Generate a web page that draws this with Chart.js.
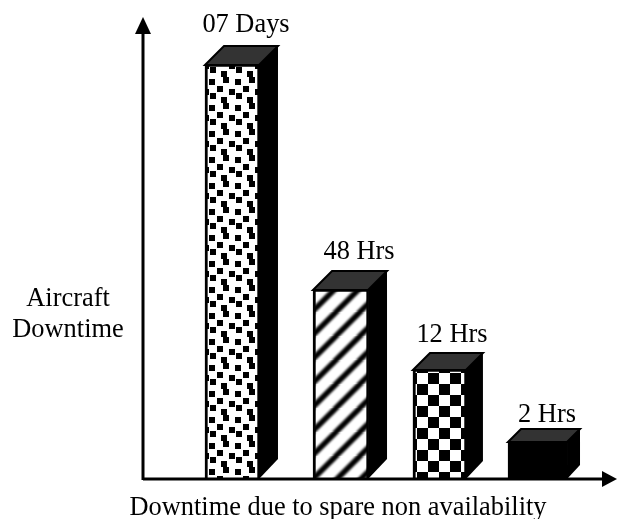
<!DOCTYPE html>
<html>
<head>
<meta charset="utf-8">
<style>html,body{margin:0;padding:0;background:#fff}canvas{display:block}</style>
<script src="https://cdn.jsdelivr.net/npm/chart.js@4"></script>
</head>
<body>
<canvas id="c" width="617" height="519"></canvas>
<script>
// Data (schematic axes, units are shares of the axis length)
const categories = ['07 Days', '48 Hrs', '12 Hrs', '2 Hrs'];
const barHeights = [89.6, 40.9, 23.6, 8.0];
const barPositions = [0.824, 1.829, 2.745, 3.653];
const xAxisTitle = 'Downtime due to spare non availability';
const yAxisTitle = ['Aircraft', 'Downtime'];

// Styles
const barWidths = [54, 55, 53, 59];
const barDepths = [19, 19, 17, 13];
const labelShiftX = [14, 18.5, 12.5, 9.5];
const labelShiftY = [33, 31, 28, 20];
const FONT = '26.4px "Liberation Serif"';

function tile(size, blur, draw) {
  const c = document.createElement('canvas');
  c.width = c.height = size;
  const t = c.getContext('2d');
  t.fillStyle = '#fff';
  t.fillRect(0, 0, size, size);
  t.fillStyle = '#000';
  t.strokeStyle = '#000';
  t.filter = 'blur(' + blur + 'px)';
  draw(t, size);
  return c;
}
const ctxMain = document.getElementById('c').getContext('2d');
const patterns = [
  ctxMain.createPattern(tile(26, 0.55, (t, s) => {
    const dots = [[4, 4], [18, 2], [12, 11], [24, 14], [5, 18], [16, 22]];
    for (const [x, y] of dots) for (const ox of [-s, 0, s]) for (const oy of [-s, 0, s])
      t.fillRect(x + ox - 3, y + oy - 3, 6, 6);
  }), 'repeat'),
  ctxMain.createPattern(tile(24, 1, (t, s) => {
    t.lineWidth = 5.5;
    for (let o = -s; o <= s; o += s) {
      t.beginPath(); t.moveTo(o - 2, s + 2); t.lineTo(o + s + 2, -2); t.stroke();
    }
  }), 'repeat'),
  ctxMain.createPattern(tile(22, 0.5, (t, s) => {
    const a = 10;
    for (let i = -1; i < 3; i++) for (let j = -1; j < 3; j++)
      if ((i + j + 2) % 2 !== 0) t.fillRect(i * 11 + a, j * 11 + a, 11, 11);
  }), 'repeat'),
  '#000'
];

const sketchPlugin = {
  id: 'sketch',
  afterDatasetsDraw(chart) {
    const ctx = chart.ctx, a = chart.chartArea;
    ctx.save();
    // 3D faces
    categories.forEach((name, i) => {
      const el = chart.getDatasetMeta(i).data[0];
      const l = el.x - barWidths[i] / 2, r = el.x + barWidths[i] / 2;
      const t = el.y, b = el.base, d = barDepths[i];
      ctx.fillStyle = '#000';
      ctx.beginPath();
      ctx.moveTo(r, t); ctx.lineTo(r + d, t - d); ctx.lineTo(r + d, b - d - 1); ctx.lineTo(r, b);
      ctx.closePath(); ctx.fill();
      ctx.fillStyle = '#333';
      ctx.strokeStyle = '#000';
      ctx.lineWidth = 2;
      ctx.beginPath();
      ctx.moveTo(l, t); ctx.lineTo(l + d, t - d); ctx.lineTo(r + d, t - d); ctx.lineTo(r, t);
      ctx.closePath(); ctx.fill(); ctx.stroke();
    });
    // Axes with arrow heads
    ctx.strokeStyle = '#000';
    ctx.fillStyle = '#000';
    ctx.lineWidth = 3;
    ctx.beginPath();
    ctx.moveTo(a.left, a.bottom + 1); ctx.lineTo(a.left, a.top + 15);
    ctx.moveTo(a.left, a.bottom); ctx.lineTo(a.right - 14, a.bottom);
    ctx.stroke();
    ctx.beginPath();
    ctx.moveTo(a.left, a.top); ctx.lineTo(a.left + 8, a.top + 17); ctx.lineTo(a.left - 8, a.top + 17);
    ctx.closePath(); ctx.fill();
    ctx.beginPath();
    ctx.moveTo(a.right, a.bottom); ctx.lineTo(a.right - 15, a.bottom - 8); ctx.lineTo(a.right - 15, a.bottom + 8);
    ctx.closePath(); ctx.fill();
    // Text
    ctx.font = FONT;
    ctx.textAlign = 'center';
    ctx.textBaseline = 'alphabetic';
    categories.forEach((name, i) => {
      const el = chart.getDatasetMeta(i).data[0];
      ctx.fillText(name, el.x + labelShiftX[i], el.y - labelShiftY[i]);
    });
    ctx.fillText(yAxisTitle[0], 68, 306);
    ctx.fillText(yAxisTitle[1], 68, 337);
    ctx.fillText(xAxisTitle, 338, 515);
    ctx.restore();
  }
};

new Chart(ctxMain, {
  type: 'bar',
  data: {
    labels: categories,
    datasets: categories.map((name, i) => ({
      label: name,
      data: [{ x: barPositions[i], y: barHeights[i] }],
      backgroundColor: patterns[i],
      borderColor: '#000',
      borderWidth: { left: 3, top: 2, right: 2, bottom: 0 },
      borderSkipped: false,
      barThickness: barWidths[i],
      grouped: false
    }))
  },
  options: {
    responsive: false,
    animation: false,
    events: [],
    layout: { padding: { left: 143, right: 0, top: 17, bottom: 40 } },
    plugins: { legend: { display: false }, tooltip: { enabled: false }, title: { display: false } },
    scales: {
      x: { type: 'linear', display: false, min: 0, max: 4.389, offset: false },
      y: { display: false, min: 0, max: 100 }
    }
  },
  plugins: [sketchPlugin]
});
</script>
</body>
</html>
